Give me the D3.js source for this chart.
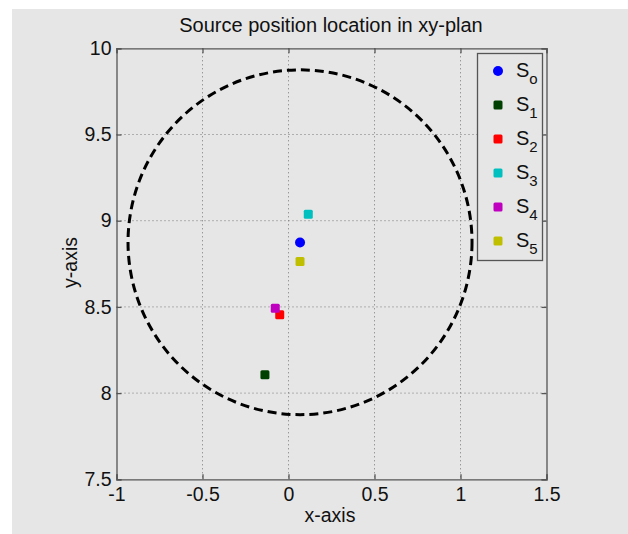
<!DOCTYPE html>
<html><head><meta charset="utf-8">
<script src="https://cdn.jsdelivr.net/npm/d3@7"></script>
<style>
body{margin:0;background:#ffffff;}
svg{display:block;font-family:"Liberation Sans",Arial,sans-serif;}
</style></head><body>
<svg id="c" width="628" height="534"></svg>
<script>
const names = ["S0","S1","S2","S3","S4","S5"];
const subs = ["o","1","2","3","4","5"];
const xs = [0.067,-0.137,-0.051,0.115,-0.077,0.067];
const ys = [8.874,8.107,8.455,9.037,8.492,8.764];
const colors = ["#0000ff","#004000","#ff0000","#00bfbf","#bf00bf","#bfbf00"];
const shapes = ["circle","square","square","square","square","square"];
const circleCenter = [0.067, 8.875];
const circleRadius = 1.0;
const xTicks = [-1,-0.5,0,0.5,1,1.5];
const yTicks = [7.5,8,8.5,9,9.5,10];

const svg = d3.select("#c");
svg.append("rect").attr("x",12).attr("y",9).attr("width",616).attr("height",525).attr("fill","#e6e6e6");
const L=116.5, R=546.5, T=48.3, B=479.3;
const x = d3.scaleLinear().domain([-1,1.5]).range([L,R]);
const y = d3.scaleLinear().domain([7.5,10]).range([B,T]);

// grid
const g = svg.append("g");
g.selectAll(".gx").data(xTicks.slice(1,-1)).join("line")
 .attr("x1",d=>x(d)).attr("x2",d=>x(d)).attr("y1",T).attr("y2",B)
 .attr("stroke","#777").attr("stroke-width",1).attr("stroke-dasharray","1,3");
g.selectAll(".gy").data(yTicks.slice(1,-1)).join("line")
 .attr("y1",d=>y(d)).attr("y2",d=>y(d)).attr("x1",L).attr("x2",R)
 .attr("stroke","#777").attr("stroke-width",1).attr("stroke-dasharray","1,3");

// axes
const ax = d3.axisBottom(x).tickValues(xTicks).tickSize(-5).tickPadding(8).tickFormat(d=>String(d));
const ay = d3.axisLeft(y).tickValues(yTicks).tickSize(-5).tickPadding(5).tickFormat(d=>String(d));
const axT = d3.axisTop(x).tickValues(xTicks).tickSize(-5).tickFormat("");
const ayR = d3.axisRight(y).tickValues(yTicks).tickSize(-5).tickFormat("");
function style(s){s.selectAll("path,line").attr("stroke","#555").attr("stroke-width",1.3);
 s.selectAll("text").attr("fill","#111").style("font-size","19.5px").style("font-family","Liberation Sans, Arial, sans-serif");}
svg.append("g").attr("transform",`translate(0,${B})`).call(ax).call(style);
svg.append("g").attr("transform",`translate(${L},0)`).call(ay).call(style);
svg.append("g").attr("transform",`translate(0,${T})`).call(axT).call(style);
svg.append("g").attr("transform",`translate(${R},0)`).call(ayR).call(style);

// circle
svg.append("ellipse")
 .attr("cx",x(circleCenter[0])).attr("cy",y(circleCenter[1]))
 .attr("rx",x(circleCenter[0]+circleRadius)-x(circleCenter[0]))
 .attr("ry",y(circleCenter[1])-y(circleCenter[1]+circleRadius))
 .attr("fill","none").attr("stroke","#000").attr("stroke-width",3).attr("stroke-dasharray","9,5");

// points
const pts = names.map((n,i)=>({n,x:xs[i],y:ys[i],c:colors[i],s:shapes[i]}));
function marker(sel){
 sel.each(function(d){
  const e=d3.select(this);
  if(d.s==="circle") e.append("circle").attr("r",5).attr("fill",d.c);
  else e.append("rect").attr("x",-4.5).attr("y",-4.5).attr("width",9).attr("height",9).attr("rx",1.5).attr("fill",d.c);
 });
}
svg.append("g").selectAll("g").data(pts).join("g")
 .attr("transform",d=>`translate(${x(d.x)},${y(d.y)})`).call(marker);

// legend
const lg = svg.append("g");
lg.append("rect").attr("x",477.5).attr("y",53.5).attr("width",65).attr("height",207)
 .attr("fill","#e6e6e6").attr("stroke","#555").attr("stroke-width",1.3);
const rows = lg.selectAll(".row").data(pts).join("g")
 .attr("transform",(d,i)=>`translate(498,${71+i*34})`);
rows.call(marker);
rows.each(function(d,i){
 const t=d3.select(this).append("text").attr("x",18).attr("y",6).attr("fill","#111").style("font-size","20px");
 t.append("tspan").text("S");
 t.append("tspan").attr("dy",7).style("font-size","15px").text(subs[i]);
});

// labels
svg.append("text").attr("x",331).attr("y",32).attr("text-anchor","middle").attr("fill","#111").style("font-size","20px").text("Source position location in xy-plan");
svg.append("text").attr("x",330).attr("y",522).attr("text-anchor","middle").attr("fill","#111").style("font-size","19.5px").text("x-axis");
svg.append("text").attr("transform","translate(77,262.5) rotate(-90)").attr("text-anchor","middle").attr("fill","#111").style("font-size","19.5px").text("y-axis");
</script></body></html>
